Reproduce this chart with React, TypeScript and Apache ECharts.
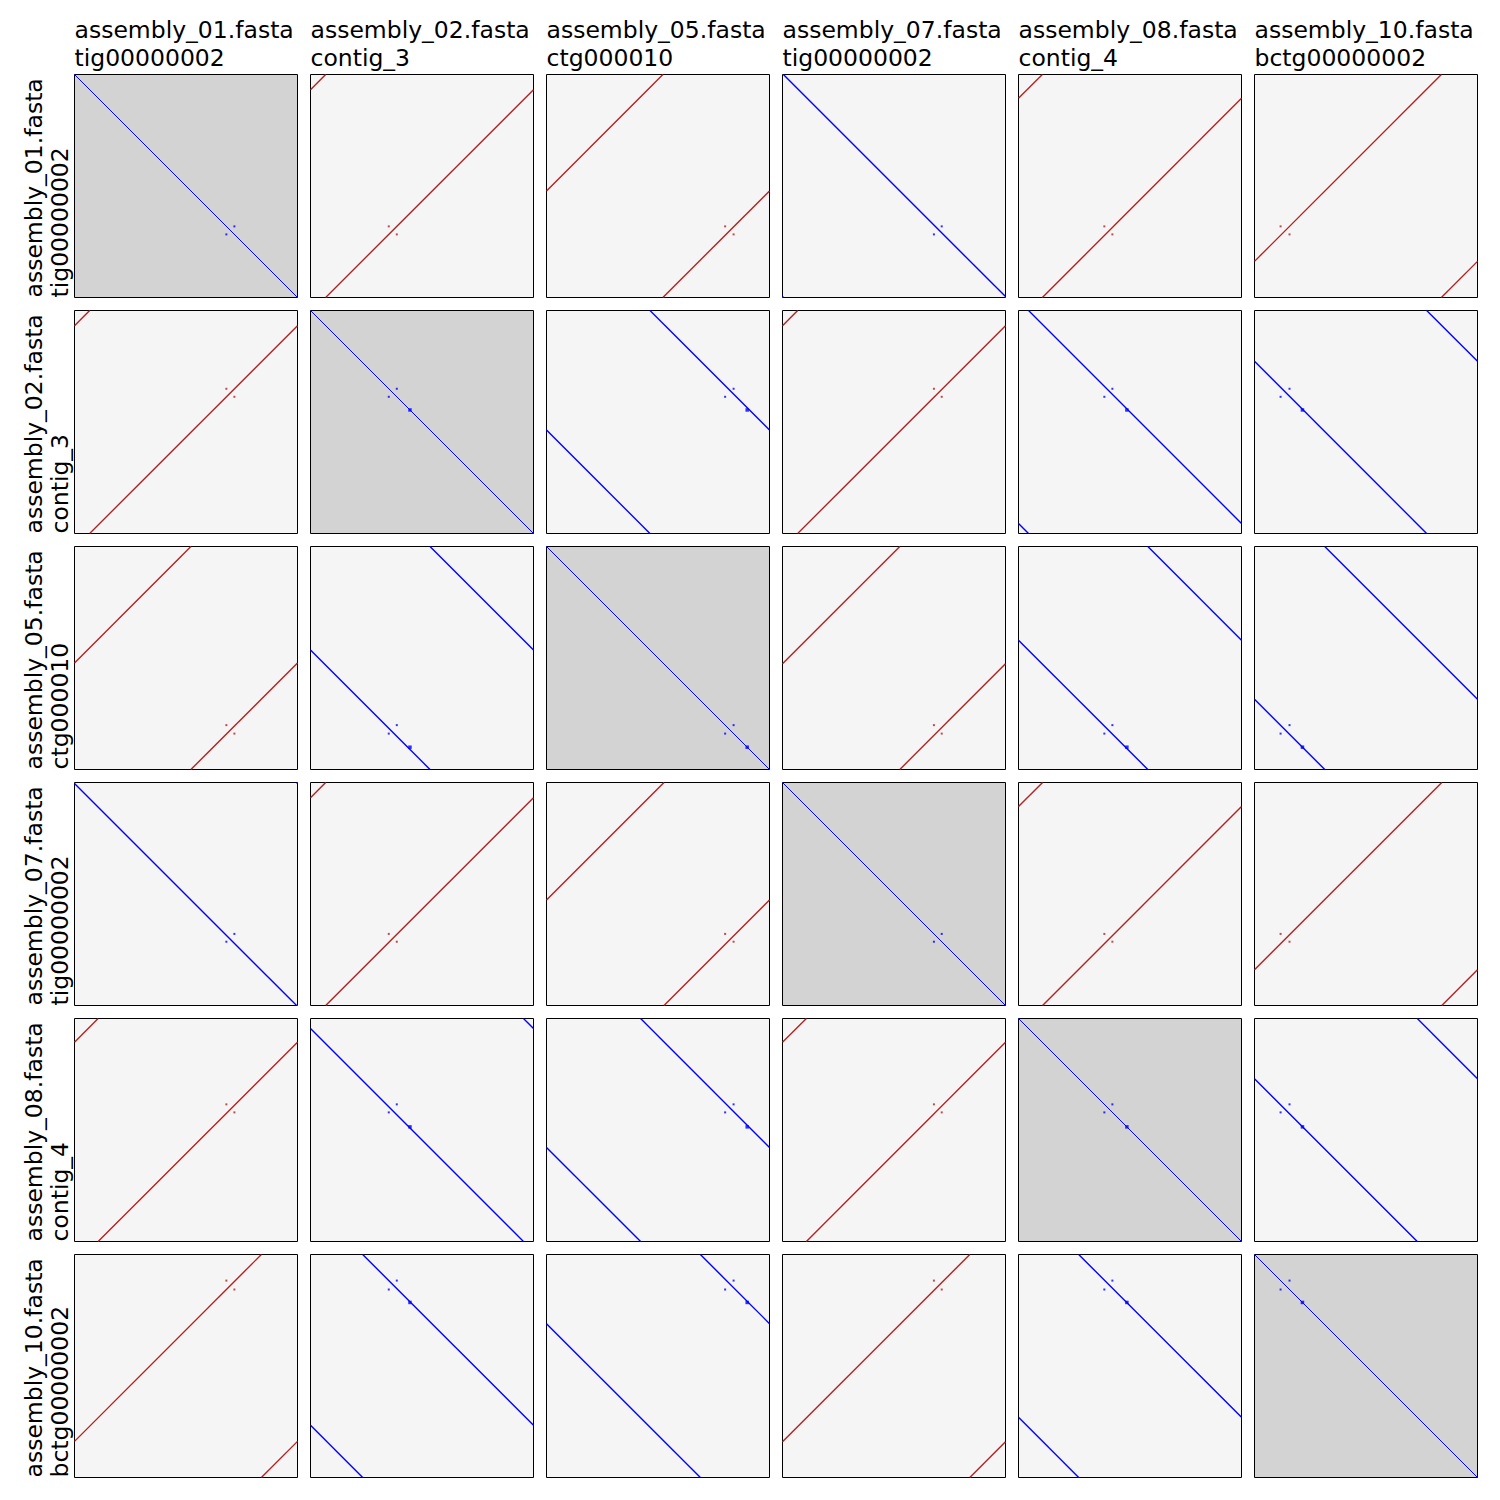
import React, { useEffect, useRef } from "react";
import * as echarts from "echarts";

// Sequences (file name + contig), same order on rows and columns
const SEQ_FILES = [
  "assembly_01.fasta",
  "assembly_02.fasta",
  "assembly_05.fasta",
  "assembly_07.fasta",
  "assembly_08.fasta",
  "assembly_10.fasta",
];
const SEQ_CONTIGS = [
  "tig00000002",
  "contig_3",
  "ctg000010",
  "tig00000002",
  "contig_4",
  "bctg00000002",
];

// Strand of the alignment in each cell (row = y sequence, col = x sequence)
// F = same orientation, R = reverse complement
const CELL_STRAND = [
  ["F", "R", "R", "F", "R", "R"],
  ["R", "F", "F", "R", "F", "F"],
  ["R", "F", "F", "R", "F", "F"],
  ["F", "R", "R", "F", "R", "R"],
  ["R", "F", "F", "R", "F", "F"],
  ["R", "F", "F", "R", "F", "F"],
];

// Alignment segments per cell: [xStart, yStart, xEnd, yEnd] as fraction of sequence length
const ROW_0_SEGMENTS = [
  [[0, 0, 1, 1]],
  [[0, 0.068, 0.068, 0], [0.068, 1, 1, 0.068]],
  [[0, 0.522, 0.522, 0], [0.522, 1, 1, 0.522]],
  [[0, 0.996, 0.004, 1], [0.004, 0, 1, 0.996]],
  [[0, 0.107, 0.107, 0], [0.107, 1, 1, 0.107]],
  [[0, 0.838, 0.838, 0], [0.838, 1, 1, 0.838]],
];
const ROW_1_SEGMENTS = [
  [[0, 0.068, 0.068, 0], [0.068, 1, 1, 0.068]],
  [[0, 0, 1, 1]],
  [[0, 0.536, 0.464, 1], [0.464, 0, 1, 0.536]],
  [[0, 0.068, 0.068, 0], [0.068, 1, 1, 0.068]],
  [[0, 0.955, 0.045, 1], [0.045, 0, 1, 0.955]],
  [[0, 0.228, 0.772, 1], [0.772, 0, 1, 0.228]],
];
const ROW_2_SEGMENTS = [
  [[0, 0.522, 0.522, 0], [0.522, 1, 1, 0.522]],
  [[0, 0.464, 0.536, 1], [0.536, 0, 1, 0.464]],
  [[0, 0, 1, 1]],
  [[0, 0.526, 0.526, 0], [0.526, 1, 1, 0.526]],
  [[0, 0.42, 0.58, 1], [0.58, 0, 1, 0.42]],
  [[0, 0.685, 0.315, 1], [0.315, 0, 1, 0.685]],
];
const ROW_3_SEGMENTS = [
  [[0, 0.004, 0.996, 1], [0.996, 0, 1, 0.004]],
  [[0, 0.068, 0.068, 0], [0.068, 1, 1, 0.068]],
  [[0, 0.527, 0.527, 0], [0.527, 1, 1, 0.527]],
  [[0, 0, 1, 1]],
  [[0, 0.108, 0.108, 0], [0.108, 1, 1, 0.108]],
  [[0, 0.84, 0.84, 0], [0.84, 1, 1, 0.84]],
];
const ROW_4_SEGMENTS = [
  [[0, 0.106, 0.106, 0], [0.106, 1, 1, 0.106]],
  [[0, 0.045, 0.955, 1], [0.955, 0, 1, 0.045]],
  [[0, 0.578, 0.422, 1], [0.422, 0, 1, 0.578]],
  [[0, 0.107, 0.107, 0], [0.107, 1, 1, 0.107]],
  [[0, 0, 1, 1]],
  [[0, 0.27, 0.73, 1], [0.73, 0, 1, 0.27]],
];
const ROW_5_SEGMENTS = [
  [[0, 0.838, 0.838, 0], [0.838, 1, 1, 0.838]],
  [[0, 0.766, 0.234, 1], [0.234, 0, 1, 0.766]],
  [[0, 0.31, 0.69, 1], [0.69, 0, 1, 0.31]],
  [[0, 0.84, 0.84, 0], [0.84, 1, 1, 0.84]],
  [[0, 0.73, 0.27, 1], [0.27, 0, 1, 0.73]],
  [[0, 0, 1, 1]],
];
const CELL_SEGMENTS = [
  ROW_0_SEGMENTS,
  ROW_1_SEGMENTS,
  ROW_2_SEGMENTS,
  ROW_3_SEGMENTS,
  ROW_4_SEGMENTS,
  ROW_5_SEGMENTS,
];

// Positions of the two copies of a small repeat in each sequence (fraction)
const REPEAT_COPY_A = [0.681, 0.387, 0.839, 0.679, 0.421, 0.157];
const REPEAT_COPY_B = [0.717, 0.351, 0.801, 0.714, 0.385, 0.117];
// Small extra alignment block (absent in assembly_01 and assembly_07)
const EXTRA_BLOCK = [null, 0.446, 0.9, null, 0.486, 0.215];

const FORWARD_COLOR = "#0000ff";
const REVERSE_COLOR = "#b22222";

export default function App() {
  const ref = useRef<HTMLDivElement>(null);

  useEffect(() => {
    if (!ref.current) return;
    const chart = echarts.init(ref.current, undefined, { renderer: "svg" });

    const N = SEQ_FILES.length;
    const LEFT0 = 74.5;
    const TOP0 = 74.5;
    const STEP = 236;
    const SIZE = 223;

    const grids: any[] = [];
    const xAxes: any[] = [];
    const yAxes: any[] = [];
    const series: any[] = [];
    const graphics: any[] = [];

    for (let r = 0; r < N; r++) {
      for (let c = 0; c < N; c++) {
        const idx = r * N + c;
        const diag = r === c;
        grids.push({
          left: LEFT0 + STEP * c,
          top: TOP0 + STEP * r,
          width: SIZE,
          height: SIZE,
          show: true,
          backgroundColor: diag ? "#d3d3d3" : "#f5f5f5",
          borderColor: "#000",
          borderWidth: 1,
          z: 0,
        });
        xAxes.push({
          type: "value",
          gridIndex: idx,
          min: 0,
          max: 1,
          show: false,
        });
        yAxes.push({
          type: "value",
          gridIndex: idx,
          min: 0,
          max: 1,
          inverse: true,
          show: false,
        });
        const color = CELL_STRAND[r][c] === "F" ? FORWARD_COLOR : REVERSE_COLOR;
        CELL_SEGMENTS[r][c].forEach((s) => {
          series.push({
            type: "line",
            xAxisIndex: idx,
            yAxisIndex: idx,
            data: [
              [s[0], s[1]],
              [s[2], s[3]],
            ],
            showSymbol: false,
            symbol: "none",
            silent: true,
            lineStyle: { color, width: diag ? 1 : 1.4 },
            z: 2,
          });
        });
        const dots: any[] = [
          [REPEAT_COPY_A[c], REPEAT_COPY_B[r]],
          [REPEAT_COPY_B[c], REPEAT_COPY_A[r]],
        ];
        series.push({
          type: "scatter",
          xAxisIndex: idx,
          yAxisIndex: idx,
          data: dots,
          symbol: "rect",
          symbolSize: 2,
          silent: true,
          itemStyle: { color },
          z: 3,
        });
        if (EXTRA_BLOCK[r] !== null && EXTRA_BLOCK[c] !== null) {
          series.push({
            type: "scatter",
            xAxisIndex: idx,
            yAxisIndex: idx,
            data: [[EXTRA_BLOCK[c], EXTRA_BLOCK[r]]],
            symbol: "rect",
            symbolSize: 3.5,
            silent: true,
            itemStyle: { color },
            z: 3,
          });
        }
      }
    }

    const FONT = '"DejaVu Sans", sans-serif';
    const FS = 23.5;
    for (let c = 0; c < N; c++) {
      const x = LEFT0 + STEP * c;
      graphics.push({
        type: "text",
        x,
        y: 30.2,
        style: {
          text: SEQ_FILES[c],
          fontSize: FS,
          fontFamily: FONT,
          fill: "#000",
          align: "left",
          verticalAlign: "middle",
        },
      });
      graphics.push({
        type: "text",
        x,
        y: 57.6,
        style: {
          text: SEQ_CONTIGS[c],
          fontSize: FS,
          fontFamily: FONT,
          fill: "#000",
          align: "left",
          verticalAlign: "middle",
        },
      });
    }
    for (let r = 0; r < N; r++) {
      const y = TOP0 + STEP * r + SIZE;
      graphics.push({
        type: "text",
        x: 33.6,
        y,
        rotation: Math.PI / 2,
        style: {
          text: SEQ_FILES[r],
          fontSize: FS,
          fontFamily: FONT,
          fill: "#000",
          align: "left",
          verticalAlign: "middle",
        },
      });
      graphics.push({
        type: "text",
        x: 60.2,
        y,
        rotation: Math.PI / 2,
        style: {
          text: SEQ_CONTIGS[r],
          fontSize: FS,
          fontFamily: FONT,
          fill: "#000",
          align: "left",
          verticalAlign: "middle",
        },
      });
    }

    chart.setOption({
      animation: false,
      backgroundColor: "#ffffff",
      grid: grids,
      xAxis: xAxes,
      yAxis: yAxes,
      series,
      graphic: graphics,
    });

    return () => chart.dispose();
  }, []);

  return (
    <div
      ref={ref}
      style={{ position: "fixed", left: 0, top: 0, width: 1500, height: 1500 }}
    />
  );
}
